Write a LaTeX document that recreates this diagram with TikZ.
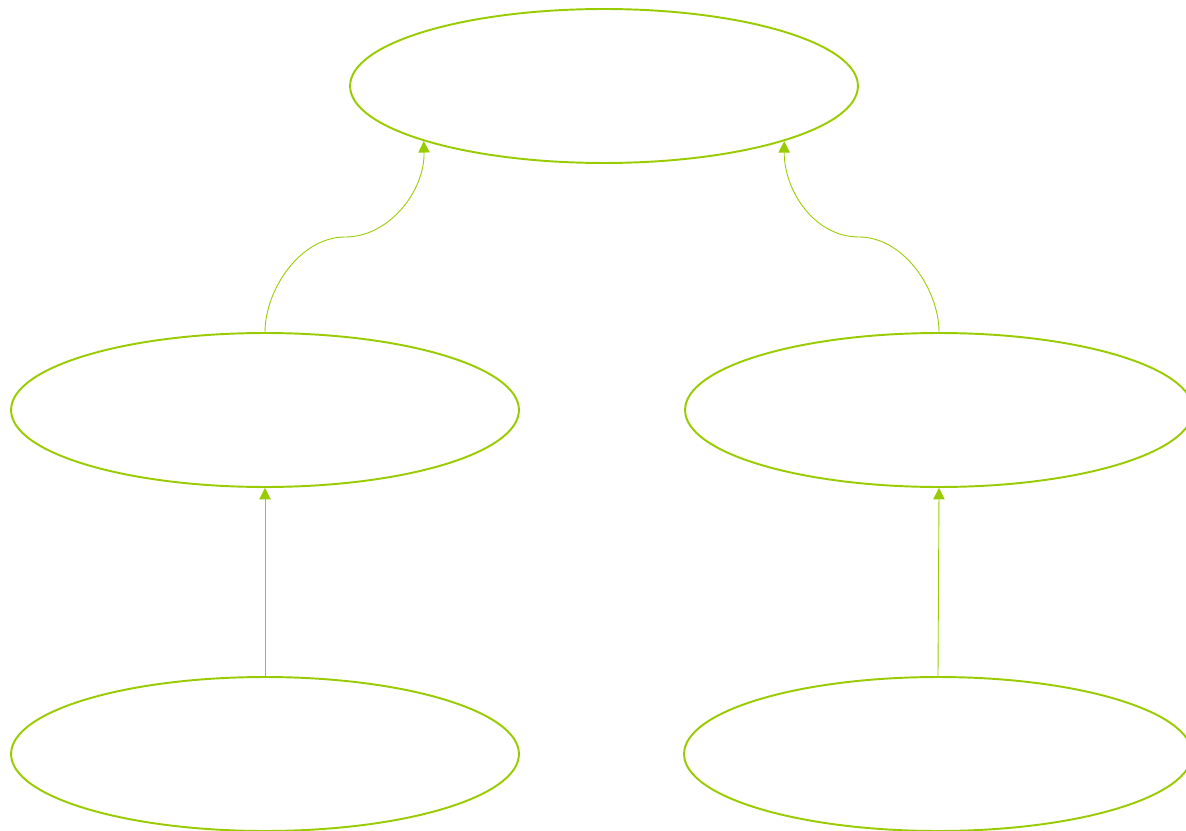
\documentclass[tikz,border=0pt]{standalone}
\usetikzlibrary{shapes.geometric,arrows.meta}
\definecolor{leafgreen}{HTML}{99CC00}
\tikzset{
    blob/.style={ellipse, draw=leafgreen, line width=1.1pt, minimum width=10.16cm, minimum height=3.08cm, inner sep=0pt},
    link/.style={draw=leafgreen, line width=0.5pt, -{Triangle[length=6.5pt,width=6.5pt]}}
}
\begin{document}
\begin{tikzpicture}[x=0.02cm, y=-0.02cm]
    \useasboundingbox (0,0) rectangle (1186,831);

    % Top
    \node[blob] (root) at (604,86) {};

    % Middle row
    \node[blob] (midleft) at (265,410) {};
    \node[blob] (midright) at (939,410) {};

    % Bottom row
    \node[blob] (lowleft) at (265,754) {};
    \node[blob] (lowright) at (938,754) {};

    % Links up to the top
    \draw[link] (midleft.north) .. controls (265,290) and (300,237) .. (345,237)
        .. controls (390,237) and (425,190) .. (root.197);
    \draw[link] (midright.north) .. controls (939,290) and (904,237) .. (859,237)
        .. controls (814,237) and (784,190) .. (root.343);

    % Links up to the middle
    \draw[link] (lowleft.north) -- (midleft.south);
    \draw[link] (lowright.north) -- (midright.south);
\end{tikzpicture}
\end{document}
